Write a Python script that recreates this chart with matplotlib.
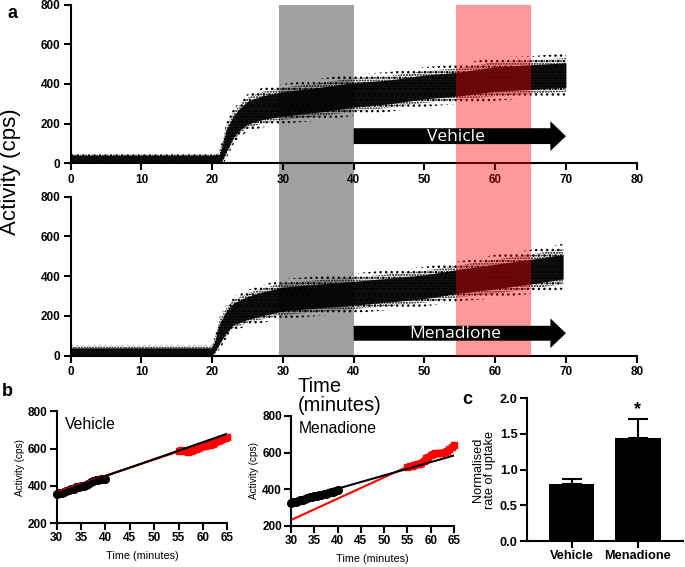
import matplotlib
matplotlib.use("Agg")
from matplotlib import pyplot as plt
from matplotlib.patches import FancyArrow
import numpy as np

matplotlib.rcParams.update({
    'font.family': ['Liberation Sans', 'DejaVu Sans'],
    'font.weight': 'bold',
    'hatch.linewidth': 1.0,
})

W, H = 685, 567

# ---- panel a: scattered counts, drawn as a dense core and a sparse halo ----
veh_t = [0, 10, 20, 21.0, 21.5, 22, 23, 24, 25, 27, 30, 35, 40, 45, 50, 55, 60, 65, 70]
veh_mid = [21, 21, 21, 25, 60, 115, 185, 225, 255, 280, 300, 320, 345, 360, 385, 400, 425, 435, 445]
veh_core = [19, 19, 19, 20, 40, 55, 55, 55, 58, 60, 62, 62, 62, 60, 60, 60, 62, 62, 62]
veh_halo = [30, 30, 30, 32, 70, 90, 90, 90, 95, 100, 100, 105, 105, 100, 100, 100, 110, 105, 110]

men_t = [0, 10, 19.9, 20.3, 21, 22, 23, 25, 27, 30, 35, 40, 45, 50, 55, 60, 65, 69.6]
men_mid = [21, 21, 21, 40, 110, 170, 210, 240, 260, 285, 300, 314, 330, 347, 375, 398, 423, 448]
men_core = [19, 19, 19, 25, 50, 55, 55, 58, 60, 60, 60, 60, 60, 60, 60, 62, 62, 62]
men_halo = [30, 30, 30, 45, 80, 85, 85, 90, 95, 100, 100, 100, 100, 100, 100, 110, 110, 115]

washout = (29.5, 40)      # grey window
measure = (54.4, 65)      # red window

# ---- panel b: traces used for the rate fits ----
early_t = np.linspace(30, 40, 21)
late_t = np.linspace(55, 65, 21)
veh_early = [355, 360, 365, 368, 372, 378, 383, 385, 392, 395, 398, 402, 405, 410, 420, 425, 430, 433, 436, 438, 440]
veh_late = [590, 592, 588, 585, 583, 588, 595, 598, 603, 607, 612, 615, 618, 620, 625, 635, 642, 647, 652, 658, 662]
men_early = [325, 328, 330, 333, 338, 342, 345, 350, 355, 358, 360, 362, 366, 370, 372, 375, 380, 383, 387, 392, 396]
men_late = [520, 525, 528, 532, 535, 540, 545, 555, 570, 578, 585, 590, 595, 597, 598, 600, 605, 610, 620, 630, 640]
fit_t = [30, 65]
veh_fit_early = [362, 680]
veh_fit_late = [368, 672]
men_fit_early = [330, 584]
men_fit_late = [231, 640]

# ---- panel c ----
groups = ['Vehicle', 'Menadione']
rate = [0.80, 1.44]
rate_sem = [0.075, 0.275]

fig = plt.figure(figsize=(W / 100, H / 100), dpi=100)


def px_axes(x0, y0, x1, y1, **kw):
    return fig.add_axes([x0 / W, 1 - y1 / H, (x1 - x0) / W, (y1 - y0) / H], **kw)


def prism(ax, size, pad=1.5):
    for s in ['top', 'right']:
        ax.spines[s].set_visible(False)
    for s in ['left', 'bottom']:
        ax.spines[s].set_linewidth(1.5)
    ax.tick_params(width=1.5, length=5, labelsize=size, pad=pad)
    for lab in ax.get_xticklabels() + ax.get_yticklabels():
        lab.set_fontweight('bold')


# window shading behind / in front of the traces
back = px_axes(70.7, 4.7, 636.7, 355.7, zorder=0)
back.set_xlim(0, 80)
back.axvspan(*washout, color='#a0a0a0', lw=0)
back.axis('off')

front = px_axes(70.7, 4.7, 636.7, 355.7, zorder=2)
front.set_xlim(0, 80)
front.axvspan(*measure, color='red', alpha=0.4, lw=0)
front.axis('off')

boxes = [(4.7, 163.3), (196.7, 355.7)]
traces = [(veh_t, veh_mid, veh_core, veh_halo), (men_t, men_mid, men_core, men_halo)]
arrows = [(137, 80, 150, 'Vehicle'), (113, 75, 149, 'Menadione')]

for (top, bot), (t, mid, core, halo), (ay, aw, ahw, name) in zip(boxes, traces, arrows):
    ax = px_axes(70.7, top, 636.7, bot, zorder=1)
    ax.patch.set_visible(False)
    t = np.array(t)
    mid, core, halo = np.array(mid), np.array(core), np.array(halo)
    ax.fill_between(t, mid - halo, mid + halo, facecolor='none', edgecolor='black',
                    hatch='...', lw=0)
    ax.fill_between(t, mid - (core + halo) / 2, mid + (core + halo) / 2, facecolor='none',
                    edgecolor='black', hatch='......', lw=0)
    ax.fill_between(t, mid - core, mid + core, color='black', alpha=0.93, lw=0)
    ax.set_xlim(0, 80)
    ax.set_ylim(0, 800)
    ax.set_xticks(range(0, 81, 10))
    ax.set_yticks(range(0, 801, 200))
    prism(ax, 8.5, pad=2.5)

    arr_ax = px_axes(70.7, top, 636.7, bot, zorder=3)
    arr_ax.set_xlim(0, 80)
    arr_ax.set_ylim(0, 800)
    arr_ax.axis('off')
    arr_ax.add_patch(FancyArrow(40, ay, 30, 0, width=aw, head_width=ahw, head_length=2.2,
                                length_includes_head=True, color='black', lw=0))
    arr_ax.text(54.4, ay - 3, name, color='white', ha='center', va='center',
                fontsize=12.5, family='Open Sans', fontweight='normal')

fig.text(11 / W, 1 - 172 / H, 'Activity (cps)', rotation=90, ha='center', va='center',
         fontsize=16, fontweight='normal')
fig.text(298 / W, 1 - 377 / H, 'Time\n(minutes)', ha='left', va='top',
         fontsize=14.5, fontweight='normal', linespacing=1.0)

# ---- panel b ----
b_boxes = [(56.7, 411.3, 227.3, 523.3), (291, 416, 454, 525.7)]
b_data = [('Vehicle', veh_early, veh_late, veh_fit_early, veh_fit_late),
          ('Menadione', men_early, men_late, men_fit_early, men_fit_late)]
for box, (name, early, late, fe, fl) in zip(b_boxes, b_data):
    ax = px_axes(*box)
    ax.plot(early_t, early, 'o', color='black', ms=5.5, clip_on=False)
    ax.plot(late_t, late, 's', color='red', ms=5, mec='red', clip_on=False)
    ax.plot(fit_t, fl, color='red', lw=1.5)
    ax.plot(fit_t, fe, color='black', lw=1.5)
    ax.set_xlim(30, 65)
    ax.set_ylim(200, 800)
    ax.set_xticks(range(30, 66, 5))
    ax.set_yticks(range(200, 801, 200))
    prism(ax, 8.5)
    ax.set_xlabel('Time (minutes)', fontsize=7.8, labelpad=5)
    ax.set_ylabel('Activity (cps)', fontsize=7.2, labelpad=2)
    ax.text(0.05, 0.95, name, transform=ax.transAxes, ha='left', va='top',
            fontsize=11.3, fontweight='normal')

# ---- panel c ----
ax = px_axes(526.7, 398.3, 683, 541)
x = np.arange(len(groups))
ax.bar(x, rate, width=0.68, color='black')
ax.errorbar(x, rate, yerr=[[0, 0], rate_sem], fmt='none', ecolor='black',
            elinewidth=1.5, capsize=7.5, capthick=1.5)
ax.text(1, 1.72, '*', ha='center', va='bottom', fontsize=13)
ax.set_xlim(-0.674, 1.677)
ax.set_ylim(0, 2.0)
ax.set_xticks(x, groups)
ax.set_yticks([0, 0.5, 1.0, 1.5, 2.0], ['0.0', '0.5', '1.0', '1.5', '2.0'])
prism(ax, 9.2)
ax.set_ylabel('Normalised\nrate of uptake', fontsize=9.2, linespacing=1.0, labelpad=3)

fig.text(8 / W, 1 - 5 / H, 'a', ha='left', va='top', fontsize=13)
fig.text(2 / W, 1 - 383 / H, 'b', ha='left', va='top', fontsize=13)
fig.text(462 / W, 1 - 391 / H, 'c', ha='left', va='top', fontsize=13)

fig.savefig('out.png', dpi=100)
